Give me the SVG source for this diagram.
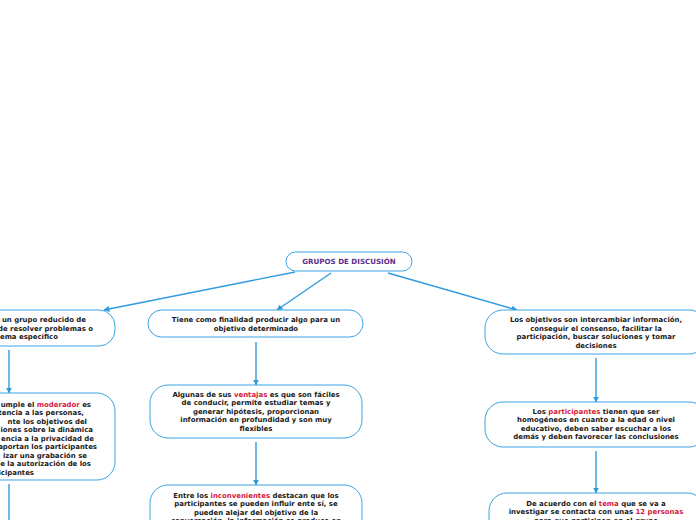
<svg xmlns="http://www.w3.org/2000/svg" width="696" height="520" viewBox="0 0 696 520">
<defs>
<marker id="ah" viewBox="0 0 10 10" refX="9" refY="5" markerWidth="6" markerHeight="6" markerUnits="userSpaceOnUse" orient="auto">
<path d="M0,0 L10,5 L0,10 z" fill="#2e9be0"/>
</marker>
<style>
.box{fill:#fff;stroke:#3aa3e3;stroke-width:1;}
.t{font-family:"DejaVu Sans",Verdana,sans-serif;font-weight:bold;font-size:6.95px;fill:#1a1a1a;text-anchor:middle;}
.te{text-anchor:end;}
.r{fill:#d4203c;}
.root{fill:#5c2d8f;font-size:7.1px;}
.c{stroke:#2e9be0;stroke-width:1.4;fill:none;marker-end:url(#ah);}
.cn{stroke:#2e9be0;stroke-width:1.4;fill:none;}
</style>
</defs>
<rect width="696" height="520" fill="#fff"/>
<g id="connectors">
<line class="c" x1="295" y1="272" x2="104" y2="310"/>
<line class="c" x1="331" y1="273" x2="277" y2="310"/>
<line class="c" x1="388" y1="273" x2="517" y2="310"/>
<line class="c" x1="9" y1="350" x2="9" y2="393"/>
<line class="cn" x1="9" y1="484" x2="9" y2="520"/>
<line class="c" x1="256" y1="342" x2="256" y2="385"/>
<line class="c" x1="256" y1="442" x2="256" y2="485"/>
<line class="c" x1="596" y1="358" x2="596" y2="402"/>
<line class="c" x1="596" y1="451" x2="596" y2="493"/>
</g>
<g id="root">
<rect class="box" x="286" y="252" width="126" height="19" rx="9.5"/>
<text class="t root" x="349" y="263.5">GRUPOS DE DISCUSIÓN</text>
</g>
<g id="n-left1">
<rect class="box" x="-100" y="310" width="215" height="36" rx="16"/>
<text class="t te" x="86" y="322">un grupo reducido de</text>
<text class="t te" x="93" y="330.5">de resolver problemas o</text>
<text class="t te" x="58" y="339">ema específico</text>
</g>
<g id="n-mid1">
<rect class="box" x="148" y="310" width="215" height="27" rx="13.5"/>
<text class="t" x="256" y="322">Tiene como finalidad producir algo para un</text>
<text class="t" x="256" y="330.5">objetivo determinado</text>
</g>
<g id="n-right1">
<rect class="box" x="485" y="310" width="222" height="44" rx="18"/>
<text class="t" x="596" y="322">Los objetivos son intercambiar información,</text>
<text class="t" x="596" y="330.5">conseguir el consenso, facilitar la</text>
<text class="t" x="596" y="339">participación, buscar soluciones y tomar</text>
<text class="t" x="596" y="347.5">decisiones</text>
</g>
<g id="n-left2">
<rect class="box" x="-100" y="393" width="215" height="87" rx="18"/>
<text class="t te" x="91" y="406.5">umple el <tspan class="r">moderador</tspan> es</text>
<text class="t te" x="84" y="415">tencia a las personas,</text>
<text class="t te" x="87" y="423.5">nte los objetivos del</text>
<text class="t te" x="93" y="432">iones sobre la dinámica</text>
<text class="t te" x="94" y="440.5">encia a la privacidad de</text>
<text class="t te" x="97" y="449">aportan los participantes</text>
<text class="t te" x="87" y="457.5">izar una grabación se</text>
<text class="t te" x="91" y="466">e la autorización de los</text>
<text class="t te" x="34" y="474.5">icipantes</text>
</g>
<g id="n-mid2">
<rect class="box" x="150" y="385" width="212" height="53" rx="18"/>
<text class="t" x="256" y="396.5">Algunas de sus <tspan class="r">ventajas</tspan> es que son fáciles</text>
<text class="t" x="256" y="405">de conducir, permite estudiar temas y</text>
<text class="t" x="256" y="413.5">generar hipótesis, proporcionan</text>
<text class="t" x="256" y="422">información en profundidad y son muy</text>
<text class="t" x="256" y="430.5">flexibles</text>
</g>
<g id="n-mid3">
<rect class="box" x="150" y="485" width="212" height="60" rx="18"/>
<text class="t" x="256" y="497.5">Entre los <tspan class="r">inconvenientes</tspan> destacan que los</text>
<text class="t" x="256" y="506">participantes se pueden influir ente sí, se</text>
<text class="t" x="256" y="514.5">pueden alejar del objetivo de la</text>
<text class="t" x="256" y="523">conversación, la información se produce en</text>
</g>
<g id="n-right2">
<rect class="box" x="485" y="402" width="222" height="45" rx="18"/>
<text class="t" x="596" y="413.5">Los <tspan class="r">participantes</tspan> tienen que ser</text>
<text class="t" x="596" y="422">homogéneos en cuanto a la edad o nivel</text>
<text class="t" x="596" y="430.5">educativo, deben saber escuchar a los</text>
<text class="t" x="596" y="439">demás y deben favorecer las conclusiones</text>
</g>
<g id="n-right3">
<rect class="box" x="489" y="493" width="216" height="50" rx="18"/>
<text class="t" x="596" y="505.5">De acuerdo con el <tspan class="r">tema</tspan> que se va a</text>
<text class="t" x="596" y="514">investigar se contacta con unas <tspan class="r">12 personas</tspan></text>
<text class="t" x="596" y="522.5">para que participen en el grupo</text>
</g>
</svg>
